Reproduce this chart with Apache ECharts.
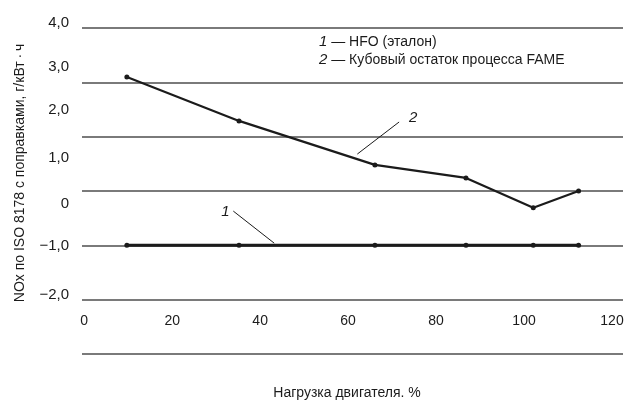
<!DOCTYPE html>
<html>
<head>
<meta charset="utf-8">
<script src="https://cdn.jsdelivr.net/npm/echarts@6/dist/echarts.min.js"></script>
<style>
  html, body { margin: 0; padding: 0; background: #fff; }
  #chart { width: 632px; height: 401px; }
</style>
</head>
<body>
<div id="chart"></div>
<script>
// Engine load, %
const loads = [9.7, 35.2, 66.1, 86.8, 102.1, 112.4];
// Series 1: HFO (reference fuel)
const hfo = [-1.0, -1.0, -1.0, -1.0, -1.0, -1.0];
// Series 2: FAME still bottoms
const fame = [2.10, 1.29, 0.48, 0.24, -0.31, 0.00];

// X tick labels
const xTicks = [0, 20, 40, 60, 80, 100, 120];
// Horizontal rules across the plot
const yRules = [-3, -2, -1, 0, 1, 2, 3];
// Y tick labels and where they sit on the value scale
const yTickText = ['4,0', '3,0', '2,0', '1,0', '0', '\u22121,0', '\u22122,0'];
const yTickPos = [3.09, 2.28, 1.49, 0.61, -0.24, -1.01, -1.91];

const legendLines = ['1', 'HFO (эталон)', '2', 'Кубовый остаток процесса FAME'];
const xTitle = 'Нагрузка двигателя. %';
const yTitle = 'NOx по ISO 8178 с поправками, г/кВт\u2009\u00b7\u2009ч';

const FONT = '"Liberation Sans", Arial, sans-serif';
const INK = '#1b1b1b';

// value-axis extent; the top leaves a little room above the last rule
const Y_MIN = -3, Y_MAX = 3.2;
const PLOT_BOTTOM = 354, RULE_TOP = 28;
const unitPx = (PLOT_BOTTOM - RULE_TOP) / 6;
const gridTop = RULE_TOP - (Y_MAX - 3) * unitPx;

const chart = echarts.init(document.getElementById('chart'), null, { renderer: 'canvas' });

chart.setOption({
  animation: false,
  backgroundColor: '#fff',
  grid: { left: 82, right: 9, top: gridTop, bottom: 401 - PLOT_BOTTOM },
  xAxis: {
    type: 'value',
    min: -0.5,
    max: 122.5,
    offset: -40,
    axisLine: { show: false },
    axisTick: { show: false },
    splitLine: { show: false },
    axisLabel: {
      customValues: xTicks,
      margin: 0,
      color: INK,
      fontFamily: FONT,
      fontSize: 14
    }
  },
  yAxis: {
    type: 'value',
    min: Y_MIN,
    max: Y_MAX,
    axisLine: { show: false },
    axisTick: { show: false },
    splitLine: { show: false },
    axisLabel: {
      customValues: yTickPos,
      margin: 13,
      color: INK,
      fontFamily: FONT,
      fontSize: 15,
      formatter: function (v) {
        let best = 0;
        yTickPos.forEach(function (p, i) {
          if (Math.abs(p - v) < Math.abs(yTickPos[best] - v)) best = i;
        });
        return yTickText[best];
      }
    }
  },
  series: [
    {
      name: 'rules',
      type: 'line',
      data: [],
      silent: true,
      z: 1,
      markLine: {
        silent: true,
        z: 1,
        symbol: 'none',
        label: { show: false },
        lineStyle: { color: '#7a7a7a', width: 2, type: 'solid' },
        data: yRules.map(v => ({ yAxis: v }))
      }
    },
    {
      name: 'HFO',
      type: 'line',
      data: loads.map((x, i) => [x, hfo[i]]),
      symbol: 'circle',
      symbolSize: 5,
      itemStyle: { color: INK },
      lineStyle: { color: INK, width: 3 },
      z: 10
    },
    {
      name: 'FAME',
      type: 'line',
      data: loads.map((x, i) => [x, fame[i]]),
      symbol: 'circle',
      symbolSize: 5,
      itemStyle: { color: INK },
      lineStyle: { color: INK, width: 2.2 },
      z: 11
    }
  ]
});

// Callouts, given in data coordinates
const callouts = [
  { text: '2', at: [74.8, 1.34], from: [62.1, 0.68], to: [71.6, 1.27] },
  { text: '1', at: [32.1, -0.39], from: [43.2, -0.96], to: [33.9, -0.37] }
];

const px = p => chart.convertToPixel({ gridIndex: 0 }, p);
const graphics = [];
callouts.forEach(function (c) {
  const a = px(c.from), b = px(c.to), t = px(c.at);
  graphics.push({
    type: 'line',
    z: 20,
    shape: { x1: a[0], y1: a[1], x2: b[0], y2: b[1] },
    style: { stroke: INK, lineWidth: 1 }
  });
  graphics.push({
    type: 'text',
    z: 20,
    x: t[0], y: t[1],
    style: {
      text: c.text, fill: INK, font: 'italic 15px ' + FONT,
      align: 'center', verticalAlign: 'middle'
    }
  });
});

// Series key in the upper plot area
graphics.push({
  type: 'text', left: 319, top: 33,
  style: {
    text: '{n|' + legendLines[0] + '} \u2014 ' + legendLines[1] + '\n{n|' + legendLines[2] + '} \u2014 ' + legendLines[3],
    fill: INK, font: '14px ' + FONT, lineHeight: 18,
    rich: { n: { fontStyle: 'italic', fontSize: 15, fontFamily: FONT, fill: INK, lineHeight: 18 } }
  }
});

// Axis titles
graphics.push({
  type: 'text', x: 347, y: 393,
  style: { text: xTitle, fill: INK, font: '14px ' + FONT, align: 'center', verticalAlign: 'middle' }
});
graphics.push({
  type: 'text', x: 20, y: 173, rotation: Math.PI / 2,
  style: { text: yTitle, fill: INK, font: '14px ' + FONT, align: 'center', verticalAlign: 'middle' }
});

chart.setOption({ graphic: graphics });
</script>
</body>
</html>
